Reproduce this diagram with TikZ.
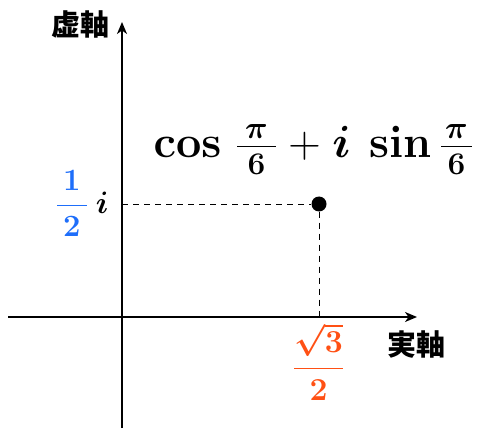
\RequirePackage{fix-cm}
\documentclass[tikz,border=0pt]{standalone}
\usepackage[no-math]{fontspec}
\newfontfamily\cjk{Noto Sans CJK JP}
\usetikzlibrary{arrows.meta}
\definecolor{myblue}{RGB}{30,110,250}
\definecolor{myorange}{RGB}{255,80,20}
\newcommand{\padfrac}[3]{\frac{\hspace{#1}#2\hspace{#1}}{\hspace{#1}#3\hspace{#1}}}
\newcommand{\thinplus}{\mathbin{\mbox{\unboldmath$+$}}}
\newcommand{\halflabel}{\textcolor{myblue}{$\displaystyle\padfrac{6pt}{1}{2}$}\hspace{8pt}$i$}
\newcommand{\sqlabel}{$\displaystyle\frac{\sqrt{3}}{2}$}
\newcommand{\zlabel}{$\cos\mkern2mu\padfrac{8pt}{\pi}{6}\thinplus i\hspace{10pt}\sin\padfrac{4pt}{\pi}{6}$}
\tikzset{
  axis/.style={line width=1.6pt,-{Stealth[length=12pt,width=10pt,inset=3.5pt]}},
  guide/.style={line width=0.8pt,dash pattern=on 6pt off 5pt},
  axlabel/.style={font=\cjk\bfseries\fontsize{29}{31}\selectfont,inner sep=0pt},
  halfstyle/.style={inner sep=0pt,anchor=west,font=\fontsize{31}{34}\selectfont\boldmath},
  sqstyle/.style={inner sep=0pt,text=myorange,font=\fontsize{32}{34}\selectfont\boldmath},
  zstyle/.style={inner sep=0pt,anchor=west,font=\fontsize{45}{48}\selectfont\boldmath}
}
\begin{document}
\begin{tikzpicture}[x=1pt,y=-1pt]
\useasboundingbox (0,0) rectangle (481,430);
\coordinate (xs) at (8,317);
\coordinate (xe) at (417,317);
\coordinate (ys) at (122,428);
\coordinate (ye) at (122,22);
\coordinate (ya) at (122,204);
\coordinate (xa) at (319,317);
\draw[axis] (xs) -- (xe);
\draw[axis] (ys) -- (ye);
\node[circle,fill=black,inner sep=0pt,minimum size=15pt] (P) at (319,204) {};
\draw[guide] (ya) -- (P);
\draw[guide] (P) -- (xa);
\node[axlabel] (im) at (80,24) {虚軸};
\node[axlabel] (re) at (416.5,345) {実軸};
\node[halfstyle] (half) at (55.8,203.5) {\halflabel};
\node[sqstyle] (sq) at (318.5,361.5) {\sqlabel};
\node[zstyle] (z) at (153.5,149.5) {\zlabel};
\end{tikzpicture}
\end{document}
